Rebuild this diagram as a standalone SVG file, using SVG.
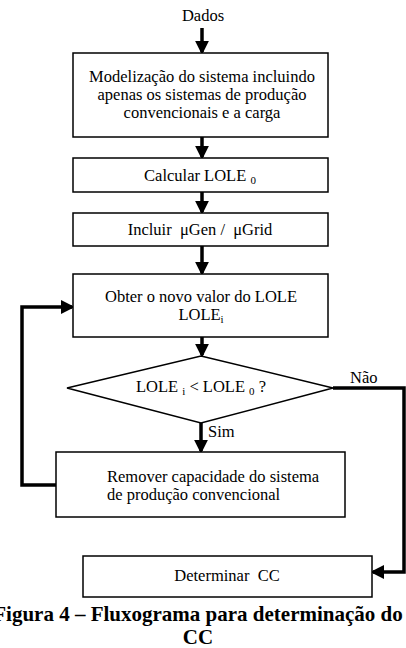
<svg xmlns="http://www.w3.org/2000/svg" width="406" height="648" viewBox="0 0 406 648">
<style>
.box{fill:#fff;stroke:#000;stroke-width:1.5}
.t{font-family:"Liberation Serif","Times New Roman",serif;font-size:16.5px;fill:#000}
.c{text-anchor:middle}
.e{fill:none;stroke:#000;stroke-width:3.5}
.cap{font-family:"Liberation Serif","Times New Roman",serif;font-size:21px;font-weight:bold;fill:#000;text-anchor:middle}
</style>
<defs>
<marker id="ah" markerWidth="4" markerHeight="4" refX="3.2" refY="2" orient="auto" markerUnits="strokeWidth" viewBox="0 0 4 4">
<path d="M0,0 L4,2 L0,4 Z" fill="#000"/>
</marker>
</defs>
<rect width="406" height="648" fill="#fff"/>
<g id="connectors">
<line class="e" x1="202" y1="28" x2="202" y2="52" marker-end="url(#ah)"/>
<line class="e" x1="202" y1="137" x2="202" y2="157" marker-end="url(#ah)"/>
<line class="e" x1="202" y1="192" x2="202" y2="212" marker-end="url(#ah)"/>
<line class="e" x1="202" y1="246" x2="202" y2="273" marker-end="url(#ah)"/>
<line class="e" x1="202" y1="337" x2="202" y2="355" marker-end="url(#ah)"/>
<line class="e" x1="201" y1="423" x2="201" y2="451" marker-end="url(#ah)"/>
<polyline class="e" points="56,485 22,485 22,307 72,307" marker-end="url(#ah)"/>
<polyline class="e" points="333,388 404,388 404,572 373,572" marker-end="url(#ah)"/>
<text class="t" x="208" y="437">Sim</text>
<text class="t" x="350" y="383">Não</text>
</g>
<g id="dados"><text class="t c" x="203" y="21">Dados</text></g>
<g id="modelizacao">
<rect class="box" x="73" y="53" width="255" height="84"/>
<text class="t c" x="202" y="82">Modelização do sistema incluindo</text>
<text class="t c" x="202" y="100">apenas os sistemas de produção</text>
<text class="t c" x="202" y="118">convencionais e a carga</text>
</g>
<g id="calcular">
<rect class="box" x="73" y="158" width="255" height="34"/>
<text class="t c" x="200" y="181">Calcular LOLE <tspan font-size="11" dy="3">0</tspan></text>
</g>
<g id="incluir">
<rect class="box" x="73" y="213" width="255" height="33"/>
<text class="t c" x="200" y="235" xml:space="preserve">Incluir  μGen /  μGrid</text>
</g>
<g id="obter">
<rect class="box" x="73" y="274" width="255" height="63"/>
<text class="t c" x="201" y="302">Obter o novo valor do LOLE</text>
<text class="t c" x="201" y="320">LOLE<tspan font-size="11" dy="3">i</tspan></text>
</g>
<g id="decisao">
<polygon class="box" points="201,356 333,388 201,423 67,388"/>
<text class="t c" x="201" y="392">LOLE <tspan font-size="11" dy="3">i</tspan><tspan dy="-3"> &lt; LOLE </tspan><tspan font-size="11" dy="3">0</tspan><tspan dy="-3"> ?</tspan></text>
</g>
<g id="remover">
<rect class="box" x="56" y="452" width="289" height="65"/>
<text class="t" x="107" y="482">Remover capacidade do sistema</text>
<text class="t" x="107" y="500">de produção convencional</text>
</g>
<g id="determinar">
<rect class="box" x="83" y="556" width="289" height="41"/>
<text class="t c" x="227" y="581" xml:space="preserve">Determinar  CC</text>
</g>
<g id="caption">
<text class="cap" x="198" y="621">Figura 4 – Fluxograma para determinação do</text>
<text class="cap" x="198" y="644">CC</text>
</g>
</svg>
